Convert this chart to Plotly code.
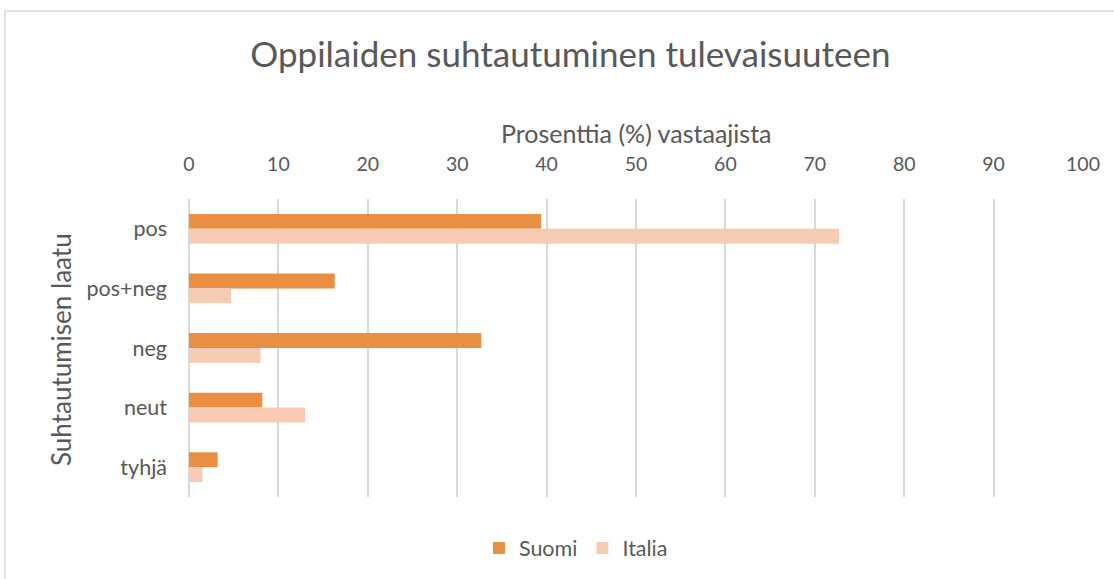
import plotly.graph_objects as go

categories = ["pos", "pos+neg", "neg", "neut", "tyhjä"]
suomi = [39.4, 16.3, 32.7, 8.2, 3.2]
italia = [72.7, 4.7, 8.0, 13.0, 1.5]
x_ticks = [0, 10, 20, 30, 40, 50, 60, 70, 80, 90, 100]

W, H = 1114, 579
L, R, T, B = 189, 1083, 199, 497

FONT = "Lato"
TXT = "#595959"

fig = go.Figure()
fig.add_trace(go.Bar(y=categories, x=suomi, name="Suomi", orientation="h",
                     marker=dict(color="#E98E43", line=dict(width=0))))
fig.add_trace(go.Bar(y=categories, x=italia, name="Italia", orientation="h",
                     marker=dict(color="#F8CBB4", line=dict(width=0))))

def px2x(px):
    return (px - L) / (R - L)

def py2y(py):
    return (B - py) / (B - T)

fig.update_layout(
    width=W, height=H,
    margin=dict(l=L, r=W - R, t=T, b=H - B),
    paper_bgcolor="white", plot_bgcolor="white",
    barmode="group", bargap=0.5, bargroupgap=0,
    font=dict(family=FONT, color=TXT, size=18),
    title=dict(text="Oppilaiden suhtautuminen tulevaisuuteen",
               x=0.512, xanchor="center", xref="container",
               y=1 - 55 / H, yanchor="middle", yref="container",
               font=dict(size=35, color=TXT, family=FONT)),
    xaxis=dict(side="top", range=[0, 100], tickvals=x_ticks,
               showgrid=True, gridcolor="#D9D9D9", gridwidth=1.5,
               zeroline=True, zerolinecolor="#D9D9D9", zerolinewidth=1.5,
               showline=False, ticks="", ticklabelstandoff=23, automargin=False,
               tickfont=dict(size=19.5, color=TXT)),
    yaxis=dict(autorange="reversed", showgrid=False, ticks="",
               showline=False, ticklabelstandoff=21, automargin=False,
               tickfont=dict(size=21.5, color=TXT)),
    legend=dict(orientation="h", x=0.517, xanchor="center", xref="container",
                y=1 - 548 / H, yanchor="middle", yref="container",
                font=dict(size=21.5, color=TXT), traceorder="normal"),
    showlegend=True,
)

fig.add_annotation(text="Prosenttia (%) vastaajista", xref="paper", yref="paper",
                   x=px2x(636), y=py2y(133), showarrow=False,
                   font=dict(size=25, color=TXT), xanchor="center", yanchor="middle")
fig.add_annotation(text="Suhtautumisen laatu", xref="paper", yref="paper",
                   x=px2x(61), y=py2y(350), showarrow=False, textangle=-90,
                   font=dict(size=26, color=TXT), xanchor="center", yanchor="middle")

fig.add_shape(type="rect", xref="paper", yref="paper",
              x0=px2x(5), x1=px2x(1125), y0=py2y(11), y1=py2y(600),
              line=dict(color="#D9D9D9", width=1.5), fillcolor="rgba(0,0,0,0)",
              layer="below")

fig.write_html("out.html", config={"displayModeBar": False},
               post_script="document.body.style.margin='0';")
